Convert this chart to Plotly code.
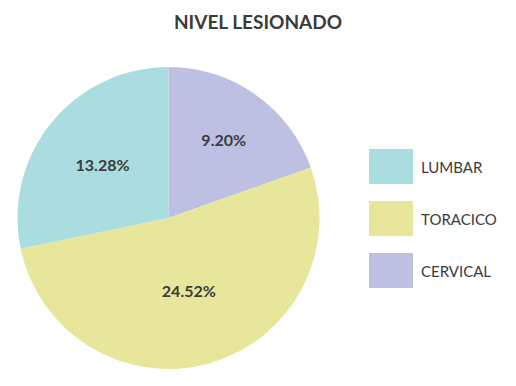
import plotly.graph_objects as go

categories = ["LUMBAR", "TORACICO", "CERVICAL"]
values = [13.28, 24.52, 9.20]
colors = ["#A9DDE0", "#E8E69B", "#BDC0E3"]
title_text = "NIVEL LESIONADO"

# page body has an 8px margin; figure fills the rest of the 516x386 window
OFF = 8
W, H = 516 - OFF, 386 - OFF
FONT = "Lato"
TXT = "#3b3b3b"


def px(x):
    return (x - OFF) / W


def py(y):
    return (H - (y - OFF)) / H


# slices run clockwise from 12 o'clock: CERVICAL, TORACICO, LUMBAR
fig = go.Figure(go.Pie(
    labels=categories[::-1],
    values=values[::-1],
    marker=dict(colors=colors[::-1], line=dict(width=0)),
    sort=False,
    direction="clockwise",
    rotation=0,
    texttemplate="%{value:.2f}%",
    textposition="inside",
    insidetextorientation="horizontal",
    textfont=dict(family=FONT, size=16, color=TXT, weight="bold"),
    hoverinfo="label+value",
    showlegend=False,
    domain=dict(x=[px(17), px(320)], y=[py(369), py(67)]),
))

# custom legend with large swatches
row_tops = [149, 201, 253]
box_h = 35
for cat, col, top in zip(categories, colors, row_tops):
    fig.add_shape(type="rect", xref="paper", yref="paper",
                  x0=px(369), x1=px(413),
                  y0=py(top + box_h), y1=py(top),
                  fillcolor=col, line=dict(width=0))
    fig.add_annotation(xref="paper", yref="paper", x=px(419),
                       y=py(top + box_h / 2),
                       xanchor="left", yanchor="middle", showarrow=False,
                       text=cat, font=dict(family=FONT, size=15, color=TXT))

fig.update_layout(
    width=W, height=H,
    margin=dict(l=0, r=0, t=0, b=0),
    paper_bgcolor="white", plot_bgcolor="white",
    title=dict(text=title_text, x=px(258), xanchor="center", y=py(22),
               yanchor="middle",
               font=dict(family=FONT, size=19, color=TXT, weight="bold")),
)

fig.write_html("out.html")
